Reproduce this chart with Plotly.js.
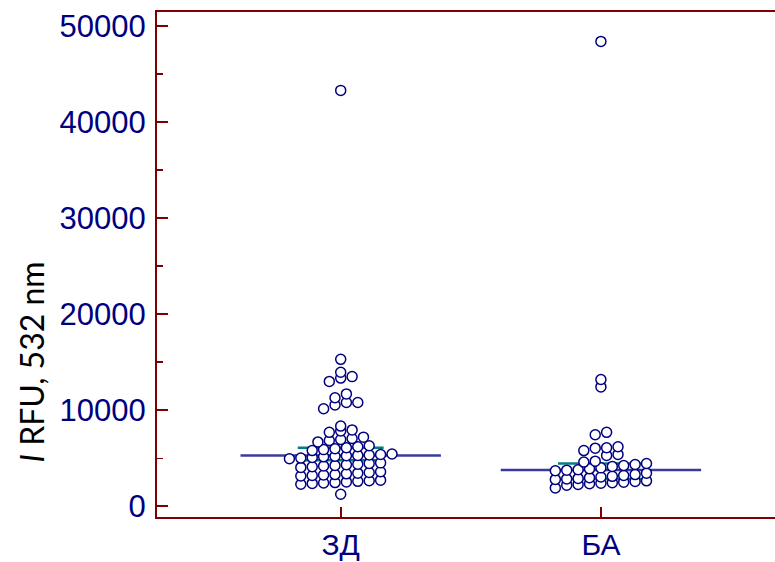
<!DOCTYPE html>
<html>
<head>
<meta charset="utf-8">
<script src="https://cdn.plot.ly/plotly-3.0.1.min.js"></script>
<style>html,body{margin:0;padding:0;background:#fff;}#chart{width:775px;height:562px;}</style>
</head>
<body>
<div id="chart"></div>
<script>
// ---- data ----
const categories = ['ЗД', 'БА'];
const valuesZD = [1250,
  2300, 2380, 2420, 2470, 2540, 2600, 2660, 2720,
  3150, 3200, 3260, 3300, 3380, 3450, 3520, 3600,
  4050, 4120, 4200, 4250, 4320, 4380, 4450, 4520,
  4950, 5020, 5080, 5150, 5210, 5260, 5300, 5340, 5390, 5440,
  5800, 5900, 6000, 6100, 6200, 6300,
  6700, 6850, 6950, 7050, 7200,
  7700, 7850, 7950,
  8350,
  10150, 10550, 10800, 10800,
  11300, 11700,
  13000, 13350, 13500,
  13950, 15300, 43300];
const valuesBA = [
  1910, 2200, 2280, 2350, 2400, 2450, 2500, 2580, 2650,
  2800, 2850, 2900, 2980, 3050, 3120, 3200, 3300, 3450,
  3700, 3760, 3800, 3900, 4000, 4150, 4250, 4350, 4450,
  4600, 4700, 5300, 5400,
  5800, 6050, 6100, 6200,
  7450, 7700,
  12430, 13200, 48400];
const medianCILow = [4800, 2840];
const medianCIHigh = [6100, 4450];
const yTickVals = [0, 10000, 20000, 30000, 40000, 50000];

// ---- styling / layout constants ----
const NAVY = '#00007f', DARKRED = '#7f0000', MEDCOL = '#3a3a9e', TEAL = '#008080';
const binSize = 900, binOrigin = 50, colStep = 0.0438;
const medHalf = 0.385, ciHalf = 0.165;

function median(a) {
  const s = a.slice().sort((p, q) => p - q);
  const n = s.length;
  return n % 2 ? s[(n - 1) / 2] : (s[n / 2 - 1] + s[n / 2]) / 2;
}
function dotLayout(vals, cat) {
  const bins = {};
  vals.forEach(v => {
    const k = Math.floor((v - binOrigin) / binSize);
    (bins[k] = bins[k] || []).push(v);
  });
  const xs = [], ys = [];
  Object.keys(bins).forEach(k => {
    const b = bins[k].sort((p, q) => p - q);
    const n = b.length;
    b.forEach((v, i) => { xs.push(cat + (i - (n - 1) / 2) * colStep); ys.push(v); });
  });
  return {xs, ys};
}

const groups = [valuesZD, valuesBA];
const traces = [];
groups.forEach((vals, c) => {
  const m = median(vals);
  traces.push({x: [c - medHalf, c + medHalf], y: [m, m], mode: 'lines', type: 'scatter',
    line: {color: MEDCOL, width: 2.5}, hoverinfo: 'skip', showlegend: false});
  [medianCILow[c], medianCIHigh[c]].forEach(v => {
    traces.push({x: [c - ciHalf, c + ciHalf], y: [v, v], mode: 'lines', type: 'scatter',
      line: {color: TEAL, width: 2.5}, hoverinfo: 'skip', showlegend: false});
  });
});
groups.forEach((vals, c) => {
  const d = dotLayout(vals, c);
  traces.push({x: d.xs, y: d.ys, mode: 'markers', type: 'scatter', name: categories[c],
    marker: {symbol: 'circle', size: 10, color: '#ffffff', line: {color: NAVY, width: 1.5}},
    showlegend: false});
});

const layout = {
  width: 775, height: 562,
  margin: {l: 157, r: 0, t: 12, b: 45, pad: 0},
  paper_bgcolor: '#ffffff', plot_bgcolor: '#ffffff',
  showlegend: false,
  xaxis: {
    range: [-0.706, 1.669], tickvals: [0, 1], ticktext: categories,
    ticks: 'inside', ticklen: 10, tickwidth: 2, tickcolor: DARKRED,
    showline: true, linecolor: DARKRED, linewidth: 2, mirror: true,
    showgrid: false, zeroline: false, ticklabelstandoff: 0,
    tickfont: {family: 'Liberation Sans, Arial, sans-serif', size: 30, color: NAVY}
  },
  yaxis: {
    range: [-1115, 51460], tickvals: yTickVals, ticktext: yTickVals.map(String),
    ticks: 'inside', ticklen: 11, tickwidth: 2, tickcolor: DARKRED,
    minor: {dtick: 5000, tick0: 0, ticks: 'inside', ticklen: 6, tickwidth: 1.5, tickcolor: DARKRED, showgrid: false},
    showline: true, linecolor: DARKRED, linewidth: 2, mirror: false,
    showgrid: false, zeroline: false, ticklabelstandoff: 3,
    tickfont: {family: 'Liberation Sans, Arial, sans-serif', size: 31, color: NAVY}
  },
  annotations: [{
    xref: 'paper', yref: 'paper', x: -0.203, y: 0.307, xanchor: 'center', yanchor: 'middle',
    textangle: -90, showarrow: false,
    text: '<i>I</i> RFU, 532 nm',
    font: {family: 'Lato, Open Sans, sans-serif', size: 32, color: '#000000'}
  }]
};

Plotly.newPlot('chart', traces, layout, {displayModeBar: false, staticPlot: true});
</script>
</body>
</html>
